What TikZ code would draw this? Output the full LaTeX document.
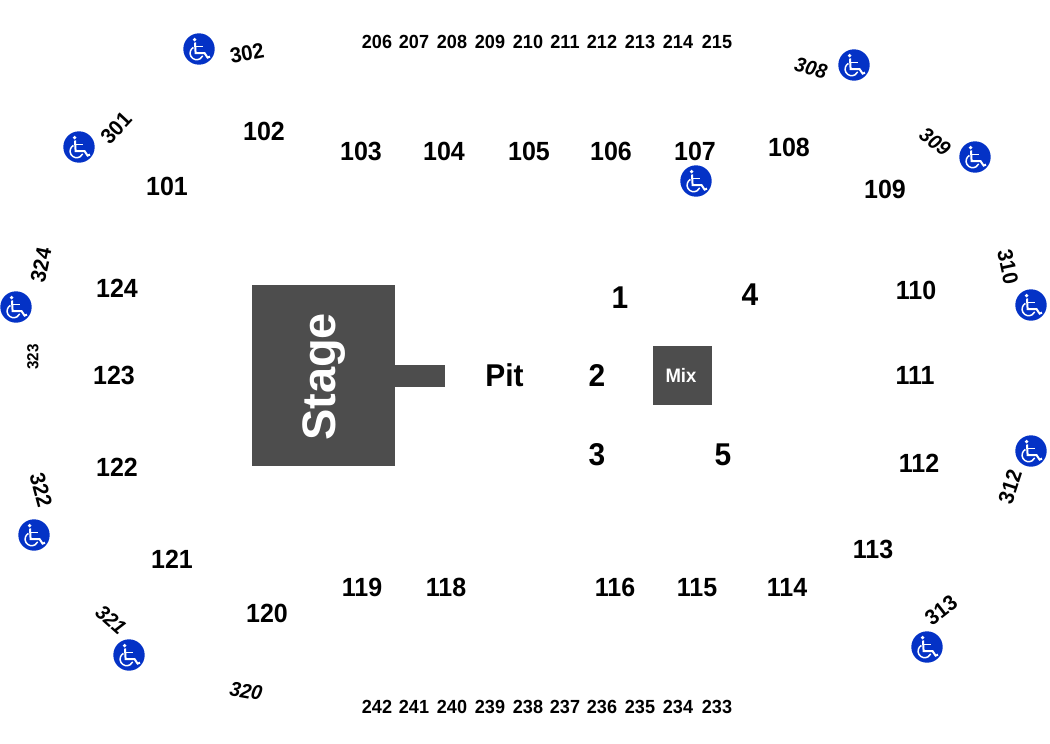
\documentclass[tikz,border=0pt]{standalone}
\usepackage{fontspec}
\setmainfont{Liberation Sans}
\newfontfamily\narrowfont[FakeStretch=0.95]{Liberation Sans}
\definecolor{stagegray}{HTML}{4D4D4D}
\definecolor{accessblue}{HTML}{0432C6}
\tikzset{
  seclabel/.style={font=\narrowfont\bfseries\fontsize{26.3}{30}\selectfont,inner sep=0pt,yshift=.7pt},
  toplabel/.style={font=\narrowfont\bfseries\fontsize{19}{22}\selectfont,inner sep=0pt},
  ringlabel/.style={font=\narrowfont\bfseries\fontsize{21.5}{24}\selectfont,inner sep=0pt},
  ringitalic/.style={font=\narrowfont\bfseries\itshape\fontsize{20.5}{24}\selectfont,inner sep=0pt},
  floorlabel/.style={font=\narrowfont\bfseries\fontsize{31.5}{36}\selectfont,inner sep=0pt,yshift=.7pt},
  block/.style={fill=stagegray,inner sep=0pt,text=white},
  accessicon/.pic={
    \fill[accessblue](0,0) circle(15.7);
    \fill[white](-4.4,-9.4) circle(1.9);
    \draw[white,line width=2pt](-4,-6.5)--(-3.4,4.2)--(5.6,4.2)--(8.6,8.6)--(11,7.6);
    \draw[white,line width=1.5pt](-3.6,-2.3)--(3.6,-2.3);
    \draw[white,line width=1.5pt](-5.6,-1.6) arc(240:25:6.6);
  }
}
\begin{document}
\begin{tikzpicture}[x=1pt,y=-1pt]
	\useasboundingbox (0,0) rectangle (1050,744);
	% stage and mix
	\node[block,minimum width=143pt,minimum height=181pt] (stage) at (323.5,375.5) {};
	\node[block,minimum width=50pt,minimum height=22pt] (thrust) at (420,376) {};
	\node[block,minimum width=59pt,minimum height=59pt] (mix) at (682.5,375.5) {};
	\node[text=white,inner sep=0pt,font=\narrowfont\bfseries\fontsize{19.5}{22}\selectfont] (mixtext) at (681,375.5) {Mix};
	\node[text=white,rotate=90,inner sep=0pt,font=\bfseries\fontsize{47}{52}\selectfont] (stagetext) at (324.5,377) {Stage};
	% floor
	\node[floorlabel] (pit) at (504.5,376) {Pit};
	\foreach \lab/\x/\y in {1/620/298,2/597/376,3/597/455,4/750/295,5/723/456}
	    \node[floorlabel] (f\lab) at (\x,\y) {\lab};
	% lower bowl
	\foreach \lab/\x/\y in {101/167/187,102/264/132,103/361/152,104/444/152,105/529/152,106/611/152,107/695/152,108/789/148,109/885/190,
	    110/916/291,111/915/376,112/919/464,113/873/550,114/787/588,115/697/588,116/615/588,118/446/588,119/362/588,
	    120/267/614,121/172/560,122/117/468,123/114/376,124/117/289}
	    \node[seclabel] (s\lab) at (\x,\y) {\lab};
	% upper rows
	\foreach \lab/\x in {206/377,207/414,208/452,209/490,210/528,211/565,212/602,213/640,214/678,215/717}
	    \node[toplabel] (t\lab) at (\x,42) {\lab};
	\foreach \lab/\x in {242/377,241/414,240/452,239/490,238/528,237/565,236/602,235/640,234/678,233/717}
	    \node[toplabel] (b\lab) at (\x,707) {\lab};
	% ring
	\foreach \lab/\x/\y/\a in {301/116/128/47,302/247/53/10,310/1008/267/-78,312/1010/487/72,313/941/610/38,322/41/490/-75,324/41/265/78}
	    \node[ringlabel,rotate=\a] (r\lab) at (\x,\y) {\lab};
	\foreach \lab/\x/\y/\a in {308/811/68/-15,309/935/142/-37,320/246/691/-10,321/111/620/-42}
	    \node[ringitalic,rotate=\a] (r\lab) at (\x,\y) {\lab};
	\node[inner sep=0pt,rotate=90,font=\narrowfont\bfseries\fontsize{16}{18}\selectfont] (r323) at (33,357) {323};
	% wheelchair signs
	\foreach \x/\y in {199/49,79/147,854/65,975/157,696/181,16/307,1031/305,1031/451,34/535,129/655,927/647}
	    \pic at (\x,\y) {accessicon};
\end{tikzpicture}
\end{document}
